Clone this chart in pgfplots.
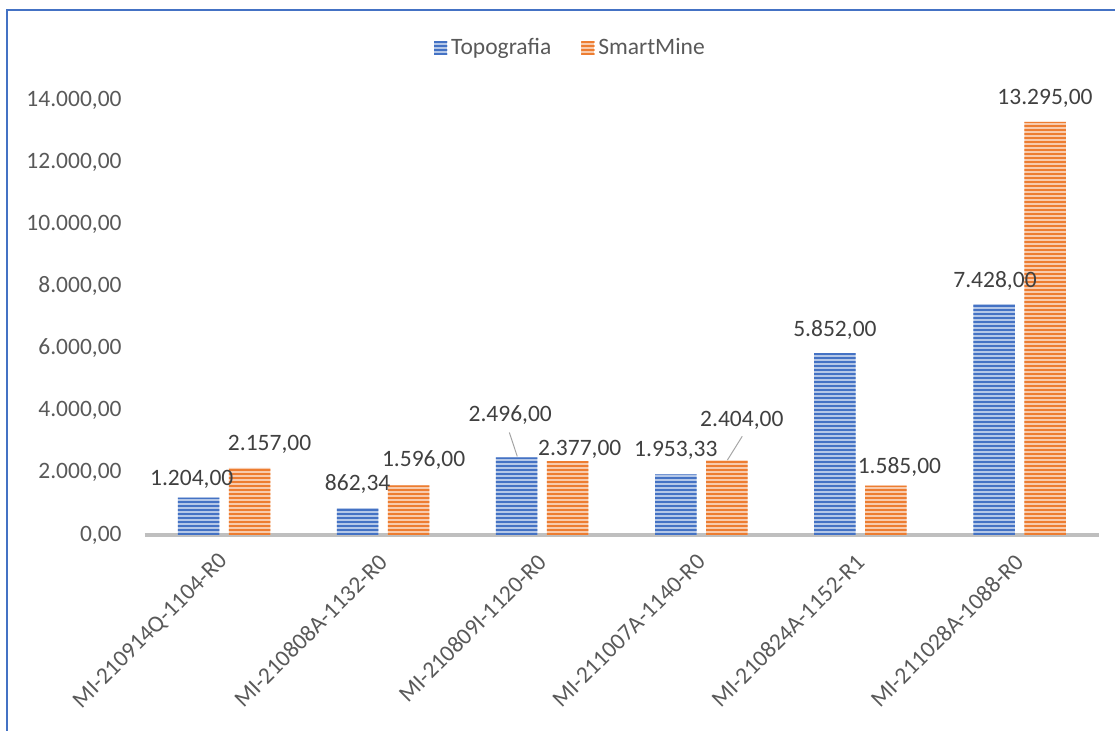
\documentclass[border=0pt]{standalone}
\usepackage{fontspec}
\setmainfont{Carlito}
\usepackage{pgfplots}
\usepackage{pgfplotstable}
\pgfplotsset{compat=1.18}
\usetikzlibrary{patterns}
\definecolor{cblue}{HTML}{4472C4}
\definecolor{corange}{HTML}{ED7D31}
\definecolor{lbl}{HTML}{404040}
\definecolor{tck}{HTML}{595959}
\definecolor{axl}{HTML}{BFBFBF}
\definecolor{lead}{HTML}{A6A6A6}
\pgfdeclarepatternformonly{hstripes}{\pgfpointorigin}{\pgfpoint{600pt}{2pt}}{\pgfpoint{600pt}{2pt}}{\pgfpathrectangle{\pgfpoint{0pt}{0pt}}{\pgfpoint{600pt}{1.1pt}}\pgfusepath{fill}}
\pgfkeys{/pgf/number format/.cd, fixed, fixed zerofill, precision=2, 1000 sep={.}, dec sep={,}, assume math mode=true}
\newcommand{\lblfont}{\fontsize{11.75}{14}\selectfont}

\pgfplotstableread{
x y lx ly
0 1204 -16.15 5.95
1 862.34 -12.75 8.8
2 2496 -16.0 17.8
3 1953.33 -12.75 9.05
4 5852 -12.75 8.55
5 7428 -12.25 8.55
}\topo
\pgfplotstableread{
x y lx ly
0 2157 22.75 8.55
1 1596 20.25 9.55
2 2377 18.75 3.05
3 2404 20.25 16.8
4 1585 19.5 6.05
5 13295 12.75 8.55
}\smart

\begin{document}
\begin{tikzpicture}
\useasboundingbox (0,0) rectangle (557.5pt,365.5pt);
\draw[cblue, line width=1pt] (3.5pt,0) -- (3.5pt,360.5pt) -- (557.5pt,360.5pt);
\begin{axis}[
  at={(72.25pt,98pt)}, anchor=south west,
  scale only axis, width=477.3pt, height=217.5pt,
  xmin=-0.5, xmax=5.5, ymin=0, ymax=14000,
  ytick={0,2000,...,14000}, scaled y ticks=false,
  xtick={0,1,2,3,4,5},
  xticklabels={MI-210914Q-1104-R0, MI-210808A-1132-R0, MI-210809I-1120-R0, MI-211007A-1140-R0, MI-210824A-1152-R1, MI-211028A-1088-R0},
  axis lines*=left,
  x axis line style={draw=axl, line width=1.75pt},
  y axis line style={draw=none},
  major tick length=0pt, tick style={draw=none},
  yticklabel style={font=\lblfont, text=tck, inner sep=0pt, anchor=east, xshift=-11.25pt},
  xticklabel style={font=\lblfont, text=tck, inner sep=0pt, xshift=0pt, yshift=-11.5pt, rotate=45, anchor=east},
  clip=false,
  legend style={at={(0.4473,1.1195)}, anchor=center, draw=none, fill=none,
    legend columns=-1, font=\lblfont, text=tck,
    /tikz/every even column/.append style={column sep=13pt}},
]
\addplot[sharp plot, lead, line width=0.5pt, forget plot] coordinates {(1.793,3301) (1.843,2528)};
\addplot[sharp plot, lead, line width=0.5pt, forget plot] coordinates {(3.257,3176) (3.163,2404)};
\addplot[ybar, bar width=20.75pt, bar shift=-12.75pt, draw=none,
  fill=cblue!40!white, postaction={pattern=hstripes, pattern color=cblue},
  visualization depends on=\thisrow{lx}\as\lx,
  visualization depends on=\thisrow{ly}\as\ly,
  nodes near coords,
  nodes near coords style={anchor=base, xshift=\lx pt, yshift=\ly pt, font=\lblfont, text=lbl},
  legend image code/.code={\fill[cblue!40!white, postaction={pattern=hstripes, pattern color=cblue}] (0pt,-3.25pt) rectangle (6.5pt,3.25pt);}
] table[x=x, y=y] {\topo};
\addlegendentry{Topografia}
\addplot[ybar, bar width=20.75pt, bar shift=12.75pt, draw=none,
  fill=corange!40!white, postaction={pattern=hstripes, pattern color=corange},
  visualization depends on=\thisrow{lx}\as\lx,
  visualization depends on=\thisrow{ly}\as\ly,
  nodes near coords,
  nodes near coords style={anchor=base, xshift=\lx pt, yshift=\ly pt, font=\lblfont, text=lbl},
  legend image code/.code={\fill[corange!40!white, postaction={pattern=hstripes, pattern color=corange}] (0pt,-3.25pt) rectangle (6.5pt,3.25pt);}
] table[x=x, y=y] {\smart};
\addlegendentry{SmartMine}
\end{axis}
\end{tikzpicture}
\end{document}
